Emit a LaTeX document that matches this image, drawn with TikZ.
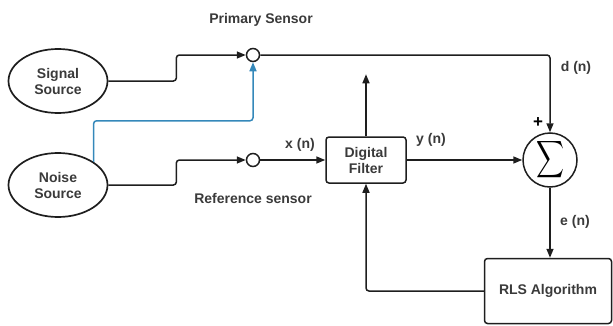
\documentclass[tikz,border=0pt]{standalone}
\usepackage{fontspec}
\setmainfont{Liberation Sans}
\usetikzlibrary{positioning, arrows.meta, shapes.geometric}
\definecolor{txtgray}{RGB}{58,58,58}
\definecolor{linegray}{RGB}{30,30,30}
\definecolor{noiseblue}{RGB}{52,136,186}

\begin{document}
\begin{tikzpicture}[x=1pt, y=1pt, node distance=10pt,
every node/.style={font=\fontsize{14}{16}\selectfont\bfseries, text=txtgray},
wire/.style={draw=linegray, line width=1.5pt, rounded corners=3pt},
tip/.style={-{Triangle[length=9pt, width=7pt]}},
source/.style={draw=linegray, ellipse, line width=1.7pt, align=center,
minimum width=99pt, minimum height=64pt, inner sep=0pt},
sensor/.style={draw=linegray, circle, line width=1.5pt, minimum size=13pt,
inner sep=0pt, fill=white},
block/.style={draw=linegray, rectangle, rounded corners=3pt, line width=1.5pt,
align=center}]
\useasboundingbox (0,0) rectangle (613,325);
\node (signal) [source] at (58,244) {Signal\\Source};
\node (noise) [source] at (58,140) {Noise\\Source};
\node (prim) [sensor] at (253,270) {};
\node (ref) [sensor] at (253,165) {};
\node (filter) [block, minimum width=80pt, minimum height=46pt] at (366,165)
{Digital\\Filter};
\node (sum) [draw=linegray, circle, line width=1.5pt, minimum size=54pt,
inner sep=0pt, text=black] at (550,165)
{\resizebox{28pt}{30pt}{$\displaystyle\sum$}};
\node (rls) [block, minimum width=127pt, minimum height=65pt] at (548,34)
{RLS Algorithm};
% labels
\node (primlbl) at (261,305) {Primary Sensor};
\node (reflbl) at (253,127) {Reference sensor};
\node (xlbl) at (300,180) {x (n)};
\node (ylbl) at (431,185) {y (n)};
\node (dlbl) at (576,257) {d (n)};
\node (elbl) at (575,103) {e (n)};
\node (plus) [inner sep=0pt, text=black] at (538,202)
{\fontsize{17}{17}\selectfont+};
\coordinate (out) at ([yshift=62pt]filter.north);
% connectors
\draw[wire, tip] (signal.east) -- ++(68,0) |- (prim.west);
\draw[wire, tip] (noise.east) -- ++(68,0) |- (ref.west);
\draw[wire, tip, draw=noiseblue, color=noiseblue] (noise.north east) -- ++(0,41)
-| (prim.south);
\draw[wire, tip] (prim.east) -| (sum.north);
\draw[wire, tip] (ref.east) -- (filter.west);
\draw[wire, tip] (filter.north) -- (out);
\draw[wire, tip] (filter.east) -- (sum.west);
\draw[wire, tip] (sum.south) -- (sum.south |- rls.north);
\draw[wire, tip] (rls.west) -| (filter.south);
\end{tikzpicture}
\end{document}
